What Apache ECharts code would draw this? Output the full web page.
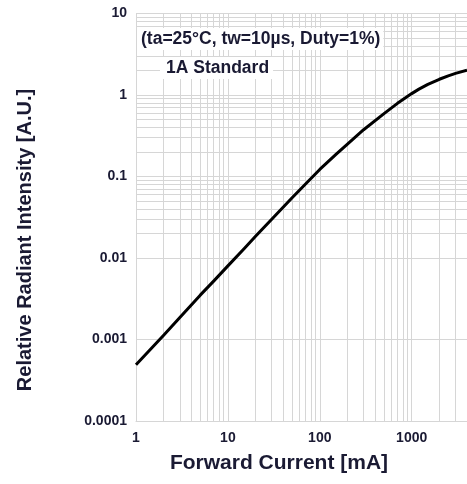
<!DOCTYPE html>
<html>
<head>
    <meta charset="UTF-8">
    <title>Relative Radiant Intensity vs Forward Current</title>
    <style>
        html, body { margin: 0; padding: 0; background: #ffffff; }
        #main { width: 467px; height: 484px; }
    </style>
    <script src="https://cdn.jsdelivr.net/npm/echarts@6/dist/echarts.min.js"></script>
</head>
<body>
<div id="main"></div>
<script type="text/javascript">
    // curve
    var current   = [1, 2, 3, 5, 7, 10, 15, 20, 30, 50, 70, 100, 150, 200, 300, 500, 700, 850,
                     1000, 1200, 1500, 2000, 2500, 3000, 4000];
    var intensity = [0.00049, 0.00113, 0.00186, 0.0035, 0.0052, 0.008, 0.013, 0.0185, 0.0299, 0.055, 0.081, 0.122,
                     0.187, 0.25, 0.375, 0.59, 0.79, 0.92,
                     1.04, 1.18, 1.35, 1.56, 1.72, 1.84, 2.02];

    // minor grid lines (log decades 2..9)
    var xMinor = [2, 3, 4, 5, 6, 7, 8, 9, 20, 30, 40, 50, 60, 70, 80, 90,
                  200, 300, 400, 500, 600, 700, 800, 900, 2000, 3000];
    var yMinor = [0.0002, 0.0003, 0.0004, 0.0005, 0.0006, 0.0007, 0.0008, 0.0009,
                  0.002, 0.003, 0.004, 0.005, 0.006, 0.007, 0.008, 0.009,
                  0.02, 0.03, 0.04, 0.05, 0.06, 0.07, 0.08, 0.09,
                  0.2, 0.3, 0.4, 0.5, 0.6, 0.7, 0.8, 0.9,
                  2, 3, 4, 5, 6, 7, 8, 9];

    var FONT = '"Liberation Sans", Arial, sans-serif';
    var gridColor = '#d6d6d6';
    var labelColor = '#1a1a33';

    var points = current.map(function (c, i) { return [c, intensity[i]]; });
    var minorLines = xMinor.map(function (v) { return { xAxis: v }; })
        .concat(yMinor.map(function (v) { return { yAxis: v }; }));

    function plain(v) { return String(+Number(v).toPrecision(1)); }

    var myChart = echarts.init(document.getElementById('main'));
    var option = {
        backgroundColor: '#ffffff',
        animation: false,
        grid: { left: 136, right: 0, top: 13.5, bottom: 63 },
        xAxis: {
            type: 'log',
            logBase: 10,
            min: 1,
            max: 4000,
            axisLine: { lineStyle: { color: gridColor } },
            axisTick: { show: false },
            splitLine: { show: true, lineStyle: { color: gridColor } },
            axisLabel: {
                showMaxLabel: false,
                margin: 10,
                color: labelColor,
                fontFamily: FONT,
                fontWeight: 'bold',
                fontSize: 14,
                formatter: plain
            }
        },
        yAxis: {
            type: 'log',
            logBase: 10,
            min: 0.0001,
            max: 10,
            axisLine: { show: true, lineStyle: { color: gridColor } },
            axisTick: { show: false },
            splitLine: { show: true, lineStyle: { color: gridColor } },
            axisLabel: {
                margin: 9,
                color: labelColor,
                fontFamily: FONT,
                fontWeight: 'bold',
                fontSize: 14,
                formatter: plain
            }
        },
        series: [
            {
                name: 'minor grid',
                type: 'line',
                data: points,
                symbol: 'none',
                silent: true,
                lineStyle: { opacity: 0 },
                markLine: {
                    silent: true,
                    z: 1,
                    symbol: ['none', 'none'],
                    label: { show: false },
                    lineStyle: { color: gridColor, width: 1, type: 'solid' },
                    data: minorLines
                }
            },
            {
                name: 'Relative Radiant Intensity',
                type: 'line',
                data: points,
                smooth: false,
                symbol: 'none',
                z: 3,
                lineStyle: { color: '#000000', width: 3, join: 'round' }
            }
        ],
        graphic: [
            {
                type: 'text',
                left: 137,
                top: 28,
                z: 10,
                style: {
                    text: '(ta=25°C, tw=10µs, Duty=1%)',
                    font: 'bold 17.5px ' + FONT,
                    fill: labelColor,
                    backgroundColor: '#ffffff',
                    padding: [2, 3, 2, 4]
                }
            },
            {
                type: 'text',
                left: 160,
                top: 57,
                z: 10,
                style: {
                    text: '1A Standard',
                    font: 'bold 17.5px ' + FONT,
                    fill: labelColor,
                    backgroundColor: '#ffffff',
                    padding: [2, 4, 2, 6]
                }
            },
            {
                type: 'text',
                x: 279,
                y: 463,
                style: {
                    text: 'Forward Current [mA]',
                    font: 'bold 21px ' + FONT,
                    fill: labelColor,
                    align: 'center',
                    verticalAlign: 'middle'
                }
            },
            {
                type: 'text',
                x: 25,
                y: 240,
                rotation: Math.PI / 2,
                style: {
                    text: 'Relative Radiant Intensity [A.U.]',
                    font: 'bold 20px ' + FONT,
                    fill: labelColor,
                    align: 'center',
                    verticalAlign: 'middle'
                }
            }
        ]
    };
    myChart.setOption(option);
</script>
</body>
</html>
